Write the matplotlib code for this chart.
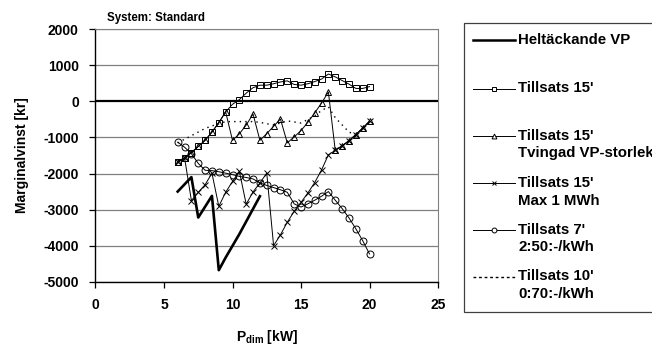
import numpy as np
import matplotlib
matplotlib.use("Agg")
import matplotlib.pyplot as plt
from matplotlib.patches import Rectangle

plt.rcParams['font.family'] = ['Liberation Sans', 'DejaVu Sans']
plt.rcParams['font.weight'] = 'bold'
plt.rcParams['axes.unicode_minus'] = False
plt.rcParams['mathtext.fontset'] = 'custom'
plt.rcParams['mathtext.rm'] = 'Liberation Sans:bold'
plt.rcParams['mathtext.bf'] = 'Liberation Sans:bold'

# data
x_half = np.arange(6, 20.5, 0.5)

helt_x = [6, 7, 7.5, 8.5, 9, 9.5, 10.5, 12]
helt_y = [-2500, -2100, -3220, -2620, -4680, -4330, -3680, -2630]

tills15 = [-1680, -1560, -1420, -1250, -1080, -850, -590, -290, -80, 50,
           230, 380, 450, 450, 490, 540, 570, 470, 450, 490,
           550, 620, 760, 680, 580, 480, 360, 360, 410]

tvingad = [-1680, -1560, -1420, -1250, -1080, -850, -590, -290, -1080, -900,
           -655, -350, -1080, -895, -690, -490, -1150, -985, -810, -580,
           -320, -45, 260, -1360, -1230, -1090, -920, -740, -550]

max1mwh = [-1680, -1560, -2750, -2520, -2310, -1990, -2910, -2520, -2220, -1940,
           -2850, -2510, -2260, -1990, -4000, -3700, -3350, -3050, -2800, -2540,
           -2250, -1900, -1480, -1360, -1230, -1090, -920, -740, -550]

tills7 = [-1130, -1270, -1450, -1720, -1910, -1920, -1950, -1990, -2030, -2080,
          -2110, -2150, -2260, -2330, -2390, -2450, -2520, -2840, -2930, -2840,
          -2740, -2630, -2500, -2740, -2970, -3230, -3530, -3860, -4230]

tills10 = [-1150, -1050, -950, -850, -750, -680, -620, -560, -560, -560,
           -560, -560, -580, -620, -650, -600, -540, -570, -600, -500,
           -400, -250, -150, -450, -650, -850, -930, -750, -560]

labels = ["Heltäckande VP", "Tillsats 15'", "Tillsats 15'\nTvingad VP-storlek",
          "Tillsats 15'\nMax 1 MWh", "Tillsats 7'\n2:50:-/kWh", "Tillsats 10'\n0:70:-/kWh"]

fig = plt.figure(figsize=(6.52, 3.47), dpi=100)
ax = fig.add_axes([95.5/652, 1-281.7/347, (438-95.5)/652, (281.7-29.3)/347])

for yv in range(-5000, 2001, 1000):
    if yv != 0:
        ax.axhline(yv, color='#808080', lw=0.9, zorder=1)
ax.axhline(0, color='black', lw=1.6, zorder=1)

ax.plot(helt_x, helt_y, color='black', lw=1.9, zorder=3)
ax.plot(x_half, tills15, color='black', lw=0.7, marker='s', ms=5, mfc='none', mec='black', mew=0.7, zorder=3)
ax.plot(x_half, tvingad, color='black', lw=0.7, marker='^', ms=5, mfc='none', mec='black', mew=0.7, zorder=3)
ax.plot(x_half, max1mwh, color='black', lw=0.7, marker='x', ms=5, mew=0.7, zorder=3)
ax.plot(x_half, tills7, color='black', lw=0.7, marker='o', ms=5, mfc='none', mec='black', mew=0.7, zorder=3)
ax.plot(x_half, tills10, color='black', lw=1.0, ls=(0, (1, 3)), zorder=3)

ax.set_xlim(0, 25)
ax.set_ylim(-5000, 2000)
ax.set_xticks(range(0, 26, 5))
ax.set_yticks(range(-5000, 2001, 1000))
ax.tick_params(direction='out', length=4, width=0.9, labelsize=10, pad=8)
for lab in ax.get_xticklabels() + ax.get_yticklabels():
    lab.set_fontweight('bold')
ax.spines['top'].set_color('#808080')
ax.spines['right'].set_color('#808080')
ax.spines['left'].set_linewidth(1.0)
ax.spines['bottom'].set_linewidth(1.0)

ax.set_xlabel(r'P$_{\mathbf{dim}}$ [kW]', fontsize=10, fontweight='bold', labelpad=11)
ax.set_ylabel('Marginalvinst [kr]', fontsize=10, fontweight='bold', labelpad=10)

fig.text(107/652, 1-21/347, 'System: Standard', fontsize=8.3, fontweight='bold', va='baseline')

# legend drawn by hand in pixel coordinates
lg = fig.add_axes([0, 0, 1, 1])
lg.set_xlim(0, 652)
lg.set_ylim(347, 0)
lg.axis('off')
lg.add_patch(Rectangle((464, 23.3), 300, 289, fill=False, edgecolor='#404040', lw=0.9))
ys = [40, 88.7, 136, 183.3, 230, 276.7]
styles = [dict(lw=1.8), dict(lw=0.7, marker='s'), dict(lw=0.7, marker='^'),
          dict(lw=0.7, marker='x'), dict(lw=0.7, marker='o'), dict(lw=1.0, ls=(0, (2, 2)))]
for yv, st, lab in zip(ys, styles, labels):
    mk = st.pop('marker', None)
    lg.plot([472.7, 515], [yv, yv], color='black', **st)
    if mk:
        lg.plot([494], [yv], marker=mk, ms=3.5, mfc='white' if mk != 'x' else 'black',
                mec='black', mew=0.7, color='black')
    lg.text(518.5, yv - 7.5, lab, fontsize=10.8, fontweight='bold', va='top',
            linespacing=1.35)

fig.savefig('out.png', dpi=100)
